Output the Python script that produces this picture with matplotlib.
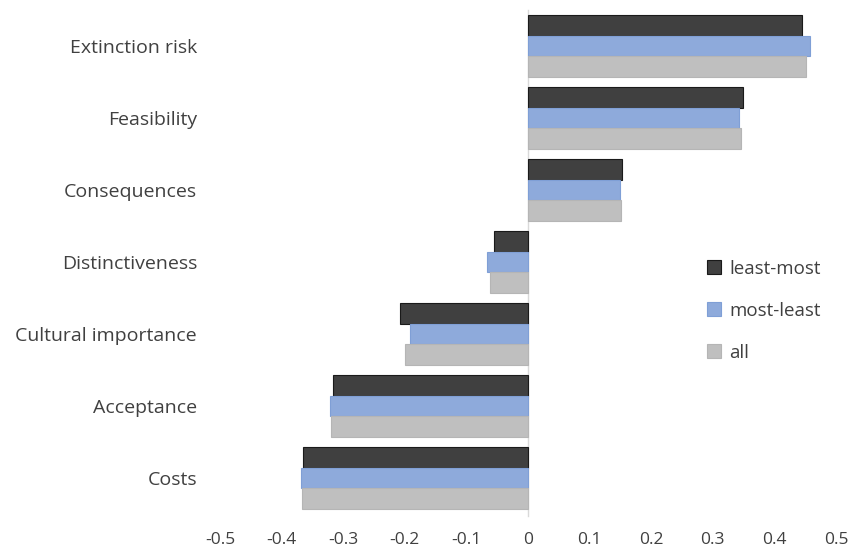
import numpy as np
from matplotlib import pyplot as plt

categories = ['Extinction risk', 'Feasibility', 'Consequences', 'Distinctiveness',
              'Cultural importance', 'Acceptance', 'Costs']
least_most = [0.445, 0.349, 0.153, -0.056, -0.207, -0.317, -0.365]
most_least = [0.458, 0.343, 0.149, -0.066, -0.192, -0.322, -0.369]
all_resp = [0.451, 0.346, 0.151, -0.061, -0.199, -0.320, -0.367]
x_ticks = [-0.5, -0.4, -0.3, -0.2, -0.1, 0, 0.1, 0.2, 0.3, 0.4, 0.5]

plt.rcParams['font.family'] = ['Open Sans', 'DejaVu Sans']
text_color = '#404040'

fig = plt.figure(figsize=(8.65, 5.49), dpi=100)
ax = fig.add_axes([220 / 865, 1 - 514 / 549, 616 / 865, 504 / 549])

y = np.arange(len(categories))
h = 0.287
ax.barh(y - h, least_most, height=h, color='#404040', edgecolor='#1a1a1a',
        linewidth=0.8, label='least-most')
ax.barh(y, most_least, height=h, color='#8eaadb', edgecolor='#7f9fd6',
        linewidth=0.8, label='most-least')
ax.barh(y + h, all_resp, height=h, color='#bfbfbf', edgecolor='#b5b5b5',
        linewidth=0.8, label='all')

ax.set_ylim(len(categories) - 0.5, -0.5)
ax.set_xlim(-0.5, 0.5)
ax.set_yticks(y)
ax.set_yticklabels(categories)
ax.set_xticks(x_ticks)
ax.set_xticklabels(['0' if t == 0 else f'{t:.1f}' for t in x_ticks])
ax.tick_params(axis='y', length=0, labelsize=14, colors=text_color, pad=16.5)
ax.tick_params(axis='x', length=0, labelsize=12.5, colors=text_color, pad=13)

for s in ax.spines.values():
    s.set_visible(False)
ax.axvline(0, color='#d9d9d9', linewidth=1, ymin=-0.004, zorder=0,
           clip_on=False)

leg = ax.legend(loc='center left', bbox_to_anchor=(0.79, 0.403), frameon=False,
                fontsize=13.5, labelspacing=1.28, handlelength=0.75,
                handleheight=0.75, handletextpad=0.45, borderpad=0,
                borderaxespad=0)
for t in leg.get_texts():
    t.set_color(text_color)

fig.savefig('out.png', dpi=100)
